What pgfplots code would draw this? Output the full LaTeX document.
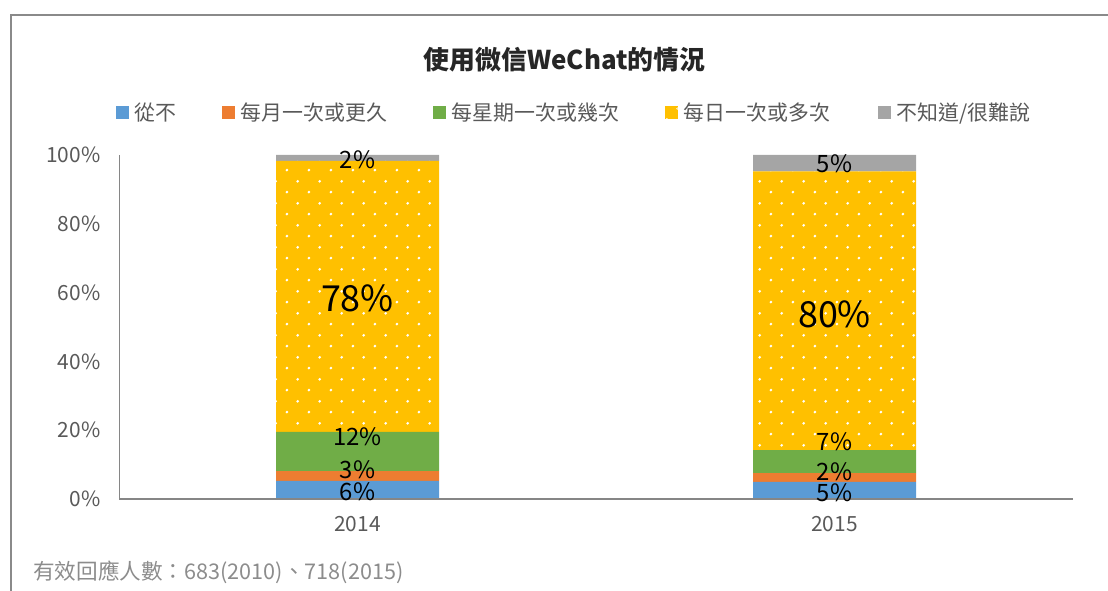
\documentclass[border=0pt]{standalone}
\usepackage{fontspec}
\setmainfont{Noto Sans CJK TC}
\usepackage{pgfplots}
\pgfplotsset{compat=1.18}
\usetikzlibrary{patterns.meta}
\definecolor{cBlue}{HTML}{5B9BD5}
\definecolor{cOrange}{HTML}{ED7D31}
\definecolor{cGreen}{HTML}{70AD47}
\definecolor{cYellow}{HTML}{FFC000}
\definecolor{cGray}{HTML}{A5A5A5}
\definecolor{tickC}{HTML}{595959}
\definecolor{axisC}{HTML}{868686}
\definecolor{frameC}{HTML}{8A8A8A}
\definecolor{noteC}{HTML}{8C8C8C}
\definecolor{titleC}{HTML}{262626}
\tikzdeclarepattern{
  name=sparsedots, type=uncolored,
  bottom left={(0bp,0bp)}, top right={(21.7bp,21.7bp)},
  tile size={(21.7bp,21.7bp)},
  code={
    \pgfpathcircle{\pgfpoint{5bp}{5bp}}{1.5bp}
    \pgfpathcircle{\pgfpoint{15.85bp}{15.85bp}}{1.5bp}
    \pgfusepath{fill}
  }
}
\newcommand{\fs}{\fontsize{21}{25}\selectfont}
\begin{document}
\begin{tikzpicture}[x=1bp,y=1bp]
\useasboundingbox (0,0) rectangle (1108,591);
\draw[color=frameC, line width=1.6bp] (11,0) -- (11,576) -- (1108,576);
\node[font=\fontsize{26}{30}\selectfont\bfseries, text=titleC] at (564.5,531.5) {使用微信WeChat的情況};
\node[anchor=base west, font=\fontsize{21.7}{25}\selectfont, text=noteC, inner sep=0pt] at (33,11) {有效回應人數：683(2010)、718(2015)};
\begin{axis}[
  at={(119bp,92bp)}, anchor=south west, scale only axis,
  width=954bp, height=344bp,
  ybar stacked, bar width=163bp,
  xmin=-0.5, xmax=1.5, ymin=0, ymax=100,
  xtick={0,1}, xticklabels={2014,2015},
  ytick={0,20,40,60,80,100},
  yticklabels={0\%,20\%,40\%,60\%,80\%,100\%},
  major tick length=0pt,
  axis x line*=bottom, axis y line*=left,
  axis line style={-},
  x axis line style={draw=axisC, line width=1.6bp},
  y axis line style={draw=axisC, line width=0.8bp},
  axis on top,
  tick label style={font=\fs, text=tickC},
  yticklabel style={xshift=-15bp},
  xticklabel style={yshift=-14bp},
  legend columns=5,
  legend cell align=left,
  legend style={at={(-0.00314,1.1235)}, anchor=west, draw=none, fill=none,
    inner sep=0pt, font=\fs, text=tickC, nodes={inner sep=0pt},
    /tikz/every even column/.append style={column sep=0pt}},
  legend image code/.code={\path[#1,draw=none] (0bp,-6.25bp) rectangle (12.5bp,6.25bp);},
]
\addplot[fill=cBlue, draw=none] coordinates {(0,5.3) (1,5.0)};
\addlegendentry{\makebox[93.5bp][l]{\hspace{6bp}從不}}
\addplot[fill=cOrange, draw=none] coordinates {(0,2.8) (1,2.5)};
\addlegendentry{\makebox[198.5bp][l]{\hspace{6bp}每月一次或更久}}
\addplot[fill=cGreen, draw=none] coordinates {(0,11.4) (1,6.7)};
\addlegendentry{\makebox[219.5bp][l]{\hspace{6bp}每星期一次或幾次}}
\addplot[fill=cYellow, draw=none, postaction={pattern=sparsedots, pattern color=white}] coordinates {(0,78.8) (1,81.0)};
\addlegendentry{\makebox[200.5bp][l]{\hspace{6bp}每日一次或多次}}
\addplot[fill=cGray, draw=none] coordinates {(0,1.7) (1,4.8)};
\addlegendentry{\hspace{6bp}不知道/很難說}
\end{axis}
\begin{axis}[
  at={(119bp,92bp)}, anchor=south west, scale only axis,
  width=954bp, height=344bp,
  xmin=-0.5, xmax=1.5, ymin=0, ymax=100,
  hide axis, clip=false,
]
\addplot[draw=none, mark=none, nodes near coords, point meta=explicit symbolic,
  nodes near coords align=center,
  every node near coord/.append style={font=\fontsize{24}{28}\selectfont, text=black, inner sep=0pt, anchor=center}]
  coordinates {(0,2.0)[6\%] (0,8.5)[3\%] (0,18.0)[12\%] (0,98.5)[2\%]
               (1,1.8)[5\%] (1,8.0)[2\%] (1,16.6)[7\%] (1,97.4)[5\%]};
\addplot[draw=none, mark=none, nodes near coords, point meta=explicit symbolic,
  nodes near coords align=center,
  every node near coord/.append style={font=\fontsize{36}{40}\selectfont, text=black, inner sep=0pt, anchor=center}]
  coordinates {(0,58.4)[78\%] (1,53.8)[80\%]};
\end{axis}
\end{tikzpicture}
\end{document}
